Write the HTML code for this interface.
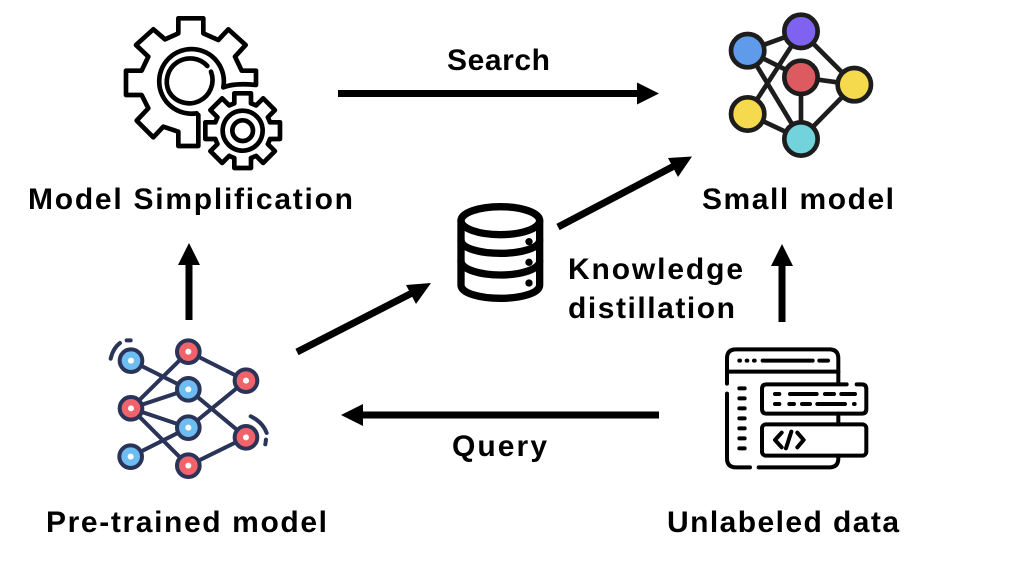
<!DOCTYPE html>
<html><head><meta charset="utf-8"><style>
html,body{margin:0;padding:0;background:#fff;width:1020px;height:562px;overflow:hidden}
svg{display:block}
text{font-family:"Liberation Sans",sans-serif;font-weight:700;font-size:30px;fill:#000}
</style></head><body>
<svg width="1020" height="562" viewBox="0 0 1020 562" xmlns="http://www.w3.org/2000/svg">
<defs>
<g id="sec"><path d="M-25-82V-112H25V-82L40-76"/></g>
</defs>

<!-- gears -->
<g transform="translate(100,0) scale(.3333)" fill="none" stroke="#000" stroke-width="14" stroke-linejoin="round" stroke-linecap="round">
<path d="M370 262C400 250 440 252 468 255V212H425L405 170L437 135L385 88L355 120L310 100V55H235V100L195 118L160 88L108 135L145 170L125 212H78V285H125L145 325L110 362L160 412L190 380L235 395V438H295V345"/>
<path d="M370 262A97 97 0 1 0 290 340"/>
<path d="M333 215A70 70 0 0 1 207 275A70 70 0 0 1 322 198"/>
<g transform="translate(428,392)">
<use href="#sec"/><use href="#sec" transform="rotate(45)"/><use href="#sec" transform="rotate(90)"/><use href="#sec" transform="rotate(135)"/><use href="#sec" transform="rotate(180)"/><use href="#sec" transform="rotate(225)"/><use href="#sec" transform="rotate(270)"/><use href="#sec" transform="rotate(315)"/>
<circle r="60"/><circle r="31"/>
</g>
</g>

<!-- small model -->
<g transform="translate(700,0) scale(.3333)" stroke="#1d1d1d" stroke-width="14">
<path fill="none" d="M143 152L303 94M143 152L303 232M143 152L303 417M303 94L143 342M303 94L463 254M303 232L463 254M303 232V417M463 254L303 417M143 342L303 417"/>
<circle cx="143" cy="152" r="50" fill="#5f9bea"/>
<circle cx="303" cy="94" r="50" fill="#7f63f0"/>
<circle cx="303" cy="232" r="50" fill="#dc5a60"/>
<circle cx="463" cy="254" r="50" fill="#f5da4e"/>
<circle cx="143" cy="342" r="50" fill="#f5da4e"/>
<circle cx="303" cy="417" r="50" fill="#72d3dc"/>
</g>

<!-- pre-trained -->
<g transform="translate(90,325) scale(.3333)" stroke="#2a3358" stroke-width="12" stroke-linecap="round">
<path fill="none" d="M123 107L295 193M123 250L295 80M123 250L295 193M123 250L295 308M123 250L295 422M295 80L468 167M295 193L468 337M295 308L468 167M122 395L295 308M295 422L468 337"/>
<path fill="none" d="M62 101C67 80 75 65 90 54M110 46H122M482 274C505 285 522 302 530 324M528 344L526 358"/>
<g fill="#f0636b">
<circle cx="295" cy="80" r="34"/><circle cx="468" cy="167" r="34"/><circle cx="123" cy="250" r="34"/><circle cx="468" cy="337" r="34"/><circle cx="295" cy="422" r="34"/>
</g>
<g fill="#6dbcf2">
<circle cx="123" cy="107" r="34"/><circle cx="295" cy="193" r="34"/><circle cx="295" cy="308" r="34"/><circle cx="122" cy="395" r="34"/>
</g>
<g fill="#fff" stroke="none">
<circle cx="295" cy="80" r="9"/><circle cx="468" cy="167" r="9"/><circle cx="123" cy="250" r="9"/><circle cx="468" cy="337" r="9"/><circle cx="295" cy="422" r="9"/><circle cx="123" cy="107" r="9"/><circle cx="295" cy="193" r="9"/><circle cx="295" cy="308" r="9"/><circle cx="122" cy="395" r="9"/>
</g>
</g>

<!-- unlabeled data -->
<g transform="translate(710,335) scale(.3333)" fill="none" stroke="#000" stroke-width="12" stroke-linecap="round" stroke-linejoin="round">
<path d="M51 146V70Q51 43 78 43H358Q385 43 385 70V146"/>
<path d="M51 110H385"/>
<path d="M51 176V370Q51 397 78 397H120M146 397H358Q385 397 385 370V362"/>
<path d="M385 236V268"/>
<path d="M410 148H170Q156 148 156 162V222Q156 236 170 236H455Q469 236 469 222V162Q469 148 455 148H440"/>
<rect x="156" y="268" width="313" height="94" rx="12"/>
<path d="M88 77H90M110 77H112M132 77H134M158 77H308M328 77H354"/>
<path d="M88 160H104M88 190H104M88 220H104M88 250H104M88 280H104M88 310H104M88 340H104"/>
<path d="M195 177H208M240 177H320M345 177H372M394 177H435M195 207H208M238 207H252M276 207H300M322 207H405M432 207H434"/>
<path d="M215 293L195 315L215 337M262 293L281 315L262 337M244 290L228 340"/>
</g>

<!-- database -->
<g transform="translate(440,190) scale(.3333)" fill="none" stroke="#000" stroke-width="22" stroke-linecap="round">
<ellipse cx="181" cy="92" rx="118" ry="42"/>
<path d="M63 92V285C63 310 120 325 181 325S299 310 299 285V92"/>
<path d="M63 150C63 175 120 190 181 190S299 175 299 150"/>
<path d="M63 213C63 238 120 255 181 255S299 238 299 213"/>
<g fill="#000" stroke="none"><circle cx="267" cy="155" r="11"/><circle cx="267" cy="217" r="11"/><circle cx="267" cy="279" r="11"/></g>
</g>

<!-- arrows -->
<g stroke="#000" stroke-width="7" fill="#000">
<path d="M338 93.500H640" fill="none"/><path stroke="none" d="M659 93.500L637 82.500V104.500Z"/>
<path d="M189 320V258" fill="none"/><path stroke="none" d="M189 243L178 265H200Z"/>
<path d="M297 352L414 292" fill="none"/><path stroke="none" d="M431 283L406 285L416 304Z"/>
<path d="M558 227L676 165" fill="none"/><path stroke="none" d="M692 156.500L668 158L678 177Z"/>
<path d="M782 322V260" fill="none"/><path stroke="none" d="M782 244L771 266H793Z"/>
<path d="M659 415H360" fill="none"/><path stroke="none" d="M341 415L363 404V426Z"/>
</g>

<!-- labels -->
<text x="447" y="70" textLength="103">Search</text>
<text x="28" y="209" textLength="325">Model Simplification</text>
<text x="702" y="209" textLength="192">Small model</text>
<text x="568" y="279" textLength="175">Knowledge</text>
<text x="568" y="318" textLength="167">distillation</text>
<text x="452" y="456" textLength="95">Query</text>
<text x="46" y="532" textLength="281">Pre-trained model</text>
<text x="667" y="532" textLength="232">Unlabeled data</text>
</svg>
</body></html>
